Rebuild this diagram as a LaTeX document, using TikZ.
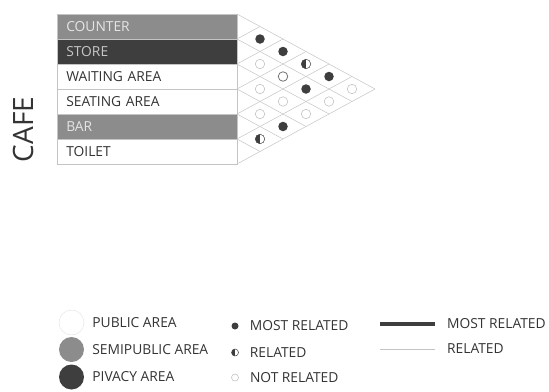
\documentclass[tikz,border=0pt]{standalone}
\usepackage{fontspec}
\setmainfont{Open Sans}
\usetikzlibrary{positioning}
\definecolor{semigris}{HTML}{8C8C8C}
\definecolor{privgris}{HTML}{3E3E3E}
\definecolor{textogris}{HTML}{333333}
\definecolor{lineagris}{HTML}{C4C4C4}
\begin{document}
\begin{tikzpicture}[x=1pt, y=-1pt,
    fila/.style={draw=lineagris, line width=0.6pt, anchor=north west, inner ysep=0pt,
        inner xsep=9pt, text width=162pt, minimum height=25pt, font=\fontsize{13.8}{15}\selectfont},
    rejilla/.style={lineagris, line width=0.5pt},
    punto/.style={circle, inner sep=0pt, minimum size=9.5pt},
    lleno/.style={punto, fill=privgris},
    vacio/.style={punto, draw=lineagris, line width=0.6pt, fill=white},
    anillo/.style={vacio, draw=black!55, line width=0.8pt},
    medio/.style={punto, draw=privgris, line width=0.5pt, fill=white,
        path picture={\fill[privgris] (path picture bounding box.north) rectangle (path picture bounding box.south west);}},
    ley/.style={anchor=west, text=textogris, font=\fontsize{13.8}{15}\selectfont, inner sep=0pt}]

    \useasboundingbox (0,0) rectangle (549,391);

    % Filas de la tabla
    \foreach \i/\lab/\fc/\tc in {0/COUNTER/semigris/white!90!black, 1/STORE/privgris/white!78!black,
        2/WAITING AREA/white/textogris, 3/SEATING AREA/white/textogris,
        4/BAR/semigris/white!90!black, 5/TOILET/white/textogris}
        \node[fila, fill=\fc, text=\tc] (r\i) at (57, {14+25*\i}) {\lab};

    % Titulo vertical
    \node[rotate=90, text=textogris, font=\fontsize{28}{30}\selectfont] (cafe) at (23, 129.5) {CAFE};

    % Rejilla de rombos
    \foreach \k in {0,...,6} {
        \draw[rejilla] (237, {14+25*\k}) -- ({237+23*(6-\k)}, {89+12.5*\k});
        \draw[rejilla] (237, {14+25*\k}) -- ({237+23*\k}, {14+12.5*\k});
    }

    % Relaciones entre espacios
    \foreach \i/\j/\t in {0/1/lleno, 0/2/lleno, 1/2/vacio, 0/3/medio, 1/3/anillo, 0/4/lleno,
        2/3/vacio, 1/4/lleno, 0/5/vacio, 2/4/vacio, 1/5/vacio, 3/4/vacio, 2/5/vacio,
        3/5/lleno, 4/5/medio}
        \node[\t] (p\i\j) at ({237+23*(\j-\i)}, {26.5+12.5*(\i+\j)}) {};

    % Leyenda: zonas
    \node[circle, minimum size=25pt, draw=lineagris!50, fill=white] (lpub) at (71.5, 322.5) {};
    \node[circle, minimum size=25pt, fill=semigris] (lsemi) at (71.5, 349.5) {};
    \node[circle, minimum size=25pt, fill=privgris] (lpriv) at (71.5, 377) {};
    \node[ley, right=8pt of lpub] (tpub) {PUBLIC AREA};
    \node[ley, right=8pt of lsemi] (tsemi) {SEMIPUBLIC AREA};
    \node[ley, right=8pt of lpriv] (tpriv) {PIVACY AREA};

    % Leyenda: puntos
    \node[lleno, minimum size=7pt] (dmost) at (235, 326) {};
    \node[medio, minimum size=7pt] (drel) at (235, 352.5) {};
    \node[vacio, minimum size=7pt] (dnot) at (235, 377.5) {};
    \node[ley, right=11pt of dmost] (tmost) {MOST RELATED};
    \node[ley, right=11pt of drel] (trel) {RELATED};
    \node[ley, right=11pt of dnot] (tnot) {NOT RELATED};

    % Leyenda: lineas
    \coordinate (ma) at (380, 324);
    \coordinate (mb) at (435, 324);
    \coordinate (ra) at (380, 349);
    \coordinate (rb) at (435, 349);
    \draw[privgris, line width=4pt] (ma) -- (mb);
    \draw[lineagris, line width=0.8pt] (ra) -- (rb);
    \node[ley, right=12pt of mb] (lmost) {MOST RELATED};
    \node[ley, right=12pt of rb] (lrel) {RELATED};

\end{tikzpicture}
\end{document}
